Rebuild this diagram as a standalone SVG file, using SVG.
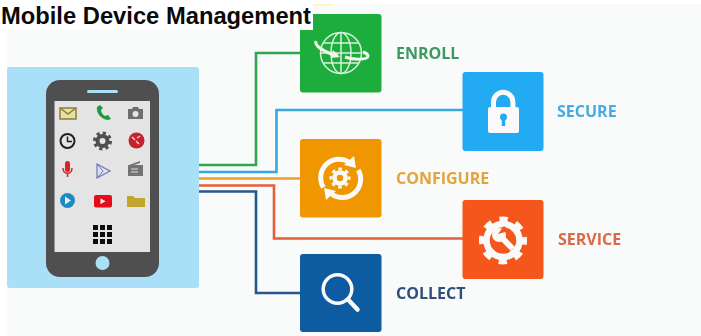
<svg xmlns="http://www.w3.org/2000/svg" width="701" height="336" viewBox="0 0 701 336">
<style>
.lbl{font-family:"Open Sans","DejaVu Sans",sans-serif;font-weight:700;font-size:16px;dominant-baseline:central}
.c{fill:none;stroke-width:2.6}
.w{fill:#fafafa}
.ws{fill:none;stroke:#fafafa}
</style>
<defs>
<filter id="soft" x="-5%" y="-5%" width="110%" height="110%"><feGaussianBlur stdDeviation="0.35"/></filter>
</defs>
<rect x="0" y="0" width="701" height="336" fill="#fff"/>
<rect x="7" y="4" width="694" height="332" fill="#f9fafa"/>
<g id="connectors" filter="url(#soft)">
<path class="c" stroke="#2fa84f" d="M199 165H256V53H300"/>
<path class="c" stroke="#34a9e0" d="M199 172H276.500V110H463"/>
<path class="c" stroke="#eb9f2c" d="M199 178.500H300"/>
<path class="c" stroke="#e2603a" d="M199 185.500H274V238.500H463"/>
<path class="c" stroke="#26558f" d="M199 191.500H256V293H300"/>
</g>
<g id="device" filter="url(#soft)">
<rect x="7" y="67" width="192" height="221" rx="3" fill="#a9e0f8"/>
<rect x="46" y="80" width="113" height="197" rx="14" fill="#4f4f4f"/>
<rect x="54.500" y="101" width="95.500" height="151" fill="#e4e4e4"/>
<rect x="87" y="90" width="31" height="3" rx="1.500" fill="#a9e0f8"/>
<circle cx="102.500" cy="263" r="7" fill="#a9e0f8"/>
<rect x="60" y="108" width="16" height="11" fill="#e6dfa8" stroke="#8c7d33" stroke-width="1.500"/>
<path d="M60 108l8 6 8-6" fill="none" stroke="#8c7d33" stroke-width="1.500"/>
<path d="M97 107c-1 6 4 12 11 13l3-1-3-4-3 1c-2-1-4-4-4-6l2-2-3-3z" fill="#1a9a3c"/>
<path d="M128 109h4l1-2h5l1 2h4v10h-15z" fill="#6e6e6e"/>
<circle cx="135.500" cy="114" r="3" fill="#e4e4e4"/>
<circle cx="67.500" cy="141" r="7" fill="none" stroke="#222" stroke-width="2"/>
<path d="M67.500 136.500V141.500H72" fill="none" stroke="#222" stroke-width="1.500"/>
<circle cx="102.500" cy="141" r="5" fill="none" stroke="#4f4f4f" stroke-width="4"/>
<circle cx="102.500" cy="141" r="8" fill="none" stroke="#4f4f4f" stroke-width="3" stroke-dasharray="3.200 3.080"/>
<circle cx="136.500" cy="140.500" r="8" fill="#c6212e"/>
<path d="M132 137l3 3M136 141l3 3M140 136l-3 2" stroke="#f0d0d0" stroke-width="1.500"/>
<rect x="65" y="161" width="5" height="11" rx="2.500" fill="#d9222b"/>
<path d="M63 168c0 7 9 7 9 0M67.500 173v4" fill="none" stroke="#d9222b" stroke-width="1.500"/>
<path d="M97 164l13 7-13 7z" fill="#dfe0f0" stroke="#6d78b0" stroke-width="1.200"/>
<path d="M97 164l6 7-6 7" fill="none" stroke="#6d78b0" stroke-width="1"/>
<path d="M129 165l11-4v2l-6 2h9v11h-15v-11z" fill="#737373"/>
<path d="M131 169h7M131 172h7" stroke="#ddd"/>
<circle cx="67.500" cy="200.500" r="7.500" fill="#1f8bc4"/>
<path d="M65 196.500l6 4-6 4z" fill="#eee"/>
<rect x="94" y="195" width="18" height="12.500" rx="2" fill="#e5101c"/>
<path d="M100.500 198.500l5 2.700-5 2.700z" fill="#fff"/>
<path d="M127 196h6l2 2h10v9h-18z" fill="#c0a52e"/>
<g fill="#111">
<rect x="93" y="225" width="5" height="5"/><rect x="100" y="225" width="5" height="5"/><rect x="107" y="225" width="5" height="5"/>
<rect x="93" y="232" width="5" height="5"/><rect x="100" y="232" width="5" height="5"/><rect x="107" y="232" width="5" height="5"/>
<rect x="93" y="239" width="5" height="5"/><rect x="100" y="239" width="5" height="5"/><rect x="107" y="239" width="5" height="5"/>
</g>
</g>
<g id="enroll" filter="url(#soft)">
<rect x="300" y="14" width="81.500" height="78.500" rx="3" fill="#1fad3c"/>
<g fill="none" stroke="#d8f0dc" stroke-width="1.500">
<circle cx="341" cy="53" r="20.500"/>
<ellipse cx="341" cy="53" rx="10" ry="20.500"/>
<path d="M341 32.500V73.500M323 43H359M320.500 53H361.500M323 63H359"/>
</g>
<path d="M316 41c-2 5 8 11 22 15" fill="none" stroke="#eef6ee" stroke-width="3"/>
<path d="M333 50l7 7-9 1z" fill="#eef6ee"/>
<path d="M345 57c8 3 23 3 23-1 0-1-2-3-5-4" fill="none" stroke="#eef6ee" stroke-width="3"/>
<text class="lbl" x="396" y="52.500" fill="#3b9a62">ENROLL</text>
</g>
<g id="secure" filter="url(#soft)">
<rect x="462.500" y="72" width="81" height="79" rx="3" fill="#22aaf2"/>
<path d="M493.500 109V102a9.700 9.700 0 0 1 19.400 0V109" fill="none" stroke="#fafafa" stroke-width="5"/>
<rect x="488" y="107" width="31" height="26" rx="2" fill="#fafafa"/>
<circle cx="503.500" cy="117" r="3.500" fill="#22aaf2"/>
<rect x="501.800" y="118" width="3.400" height="8" fill="#22aaf2"/>
<text class="lbl" x="557" y="110.500" fill="#45abdf">SECURE</text>
</g>
<g id="configure" filter="url(#soft)">
<rect x="300" y="139" width="81.500" height="78.500" rx="3" fill="#f09600"/>
<path d="M323.500 187.500A18.500 18.500 0 0 1 349 162" class="ws" stroke-width="5"/>
<path d="M354 156l2 12-12-3z" class="w"/>
<path d="M358.300 170A18.500 18.500 0 0 1 332 194.500" class="ws" stroke-width="5"/>
<path d="M326 200l-2-12 12 3z" class="w"/>
<circle cx="340" cy="178" r="5.500" class="ws" stroke-width="4.500"/>
<circle cx="340" cy="178" r="9" class="ws" stroke-width="3" stroke-dasharray="3.530 3.530" stroke-dashoffset="1.770"/>
<text class="lbl" x="396" y="177.500" fill="#e3a33e">CONFIGURE</text>
</g>
<g id="service" filter="url(#soft)">
<rect x="462.500" y="200" width="81" height="79" rx="3" fill="#f4561d"/>
<circle cx="503" cy="240.500" r="16.500" class="ws" stroke-width="6.500"/>
<circle cx="503" cy="240.500" r="21.500" class="ws" stroke-width="5" stroke-dasharray="8.440 8.440" stroke-dashoffset="4.220"/>
<circle cx="499" cy="235" r="7" class="w"/>
<path d="M500 236L513 249" class="ws" stroke-width="6"/>
<path d="M498 234L504 226L509 231z" fill="#f4561d"/>
<text class="lbl" x="558" y="239" fill="#d9694a">SERVICE</text>
</g>
<g id="collect" filter="url(#soft)">
<rect x="300" y="254" width="81.500" height="78" rx="3" fill="#115ba1"/>
<circle cx="337.500" cy="289" r="14.300" class="ws" stroke-width="3.500"/>
<path d="M348 299.500L357.500 309.500" class="ws" stroke-width="4.500" stroke-linecap="round"/>
<text class="lbl" x="396" y="292.500" fill="#2d4f7c">COLLECT</text>
</g>
<rect x="0" y="0" width="313" height="30" fill="#fff"/>
<rect x="313" y="4" width="20" height="1.500" fill="#fdf2c0"/>
<text x="1" y="24" font-family="Liberation Sans, Arial, sans-serif" font-weight="700" font-size="23.500" textLength="310" lengthAdjust="spacingAndGlyphs" fill="#0a0a0a">Mobile Device Management</text>
</svg>
